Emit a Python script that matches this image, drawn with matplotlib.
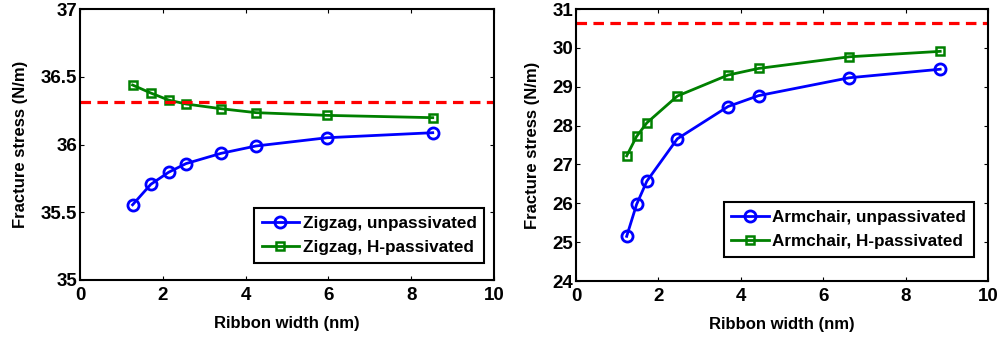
import matplotlib.pyplot as plt

plt.rcParams['font.family'] = ['Liberation Sans', 'DejaVu Sans']
plt.rcParams['font.weight'] = 'bold'

# Zigzag ribbons
zz_width = [1.27, 1.71, 2.14, 2.56, 3.41, 4.25, 5.97, 8.52]
zz_unpass = [35.555, 35.706, 35.795, 35.859, 35.935, 35.989, 36.050, 36.087]
zz_hpass = [36.439, 36.380, 36.328, 36.299, 36.264, 36.235, 36.215, 36.198]
zz_graphene = 36.31

# Armchair ribbons
ac_width = [1.23, 1.47, 1.72, 2.46, 3.69, 4.43, 6.63, 8.84]
ac_unpass = [25.15, 25.97, 26.57, 27.66, 28.49, 28.77, 29.23, 29.45]
ac_hpass = [27.22, 27.72, 28.07, 28.76, 29.30, 29.47, 29.77, 29.91]
ac_graphene = 30.64

fig = plt.figure(figsize=(10.02, 3.43), dpi=100)
ax1 = fig.add_axes([80 / 1002, 63 / 343, 414 / 1002, 271 / 343])
ax2 = fig.add_axes([576 / 1002, 62 / 343, 412 / 1002, 272 / 343])


def draw_panel(ax, x, y_un, y_h, ref, name, ylim, yticks, ylabels, leg_anchor):
    ax.plot(x, y_un, '-o', color='#0000ff', lw=2, ms=8, mew=2,
            mfc='none', label=name + ', unpassivated')
    ax.plot(x, y_h, '-s', color='#008000', lw=2, ms=6, mew=1.8,
            mfc='none', label=name + ', H-passivated')
    ax.axhline(ref, color='#ff0000', lw=2.3, ls=(0, (3.3, 2)))
    ax.set_xlim(0, 10)
    ax.set_ylim(*ylim)
    ax.set_xticks([0, 2, 4, 6, 8, 10])
    ax.set_yticks(yticks)
    ax.set_yticklabels(ylabels)
    ax.tick_params(direction='in', top=True, right=True, labelsize=13.5,
                   length=3, width=0.8)
    ax.tick_params(axis='x', pad=5)
    ax.tick_params(axis='y', pad=2)
    for s in ax.spines.values():
        s.set_linewidth(1.5)
    ax.set_xlabel('Ribbon width (nm)', fontsize=12, fontweight='bold', labelpad=9)
    ax.set_ylabel('Fracture stress (N/m)', fontsize=12, fontweight='bold', labelpad=9)
    leg = ax.legend(loc='lower right', bbox_to_anchor=leg_anchor, fontsize=12.3,
                    fancybox=False, edgecolor='black', framealpha=1,
                    handlelength=2.2, borderaxespad=0, handletextpad=0.2,
                    labelspacing=0.55, borderpad=0.45)
    leg.get_frame().set_linewidth(1.5)


draw_panel(ax1, zz_width, zz_unpass, zz_hpass, zz_graphene, 'Zigzag',
           (35, 37), [35, 35.5, 36, 36.5, 37], ['35', '35.5', '36', '36.5', '37'],
           (0.976, 0.063))
draw_panel(ax2, ac_width, ac_unpass, ac_hpass, ac_graphene, 'Armchair',
           (24, 31), list(range(24, 32)), [str(v) for v in range(24, 32)],
           (0.966, 0.088))

plt.savefig('out.png', dpi=100)
